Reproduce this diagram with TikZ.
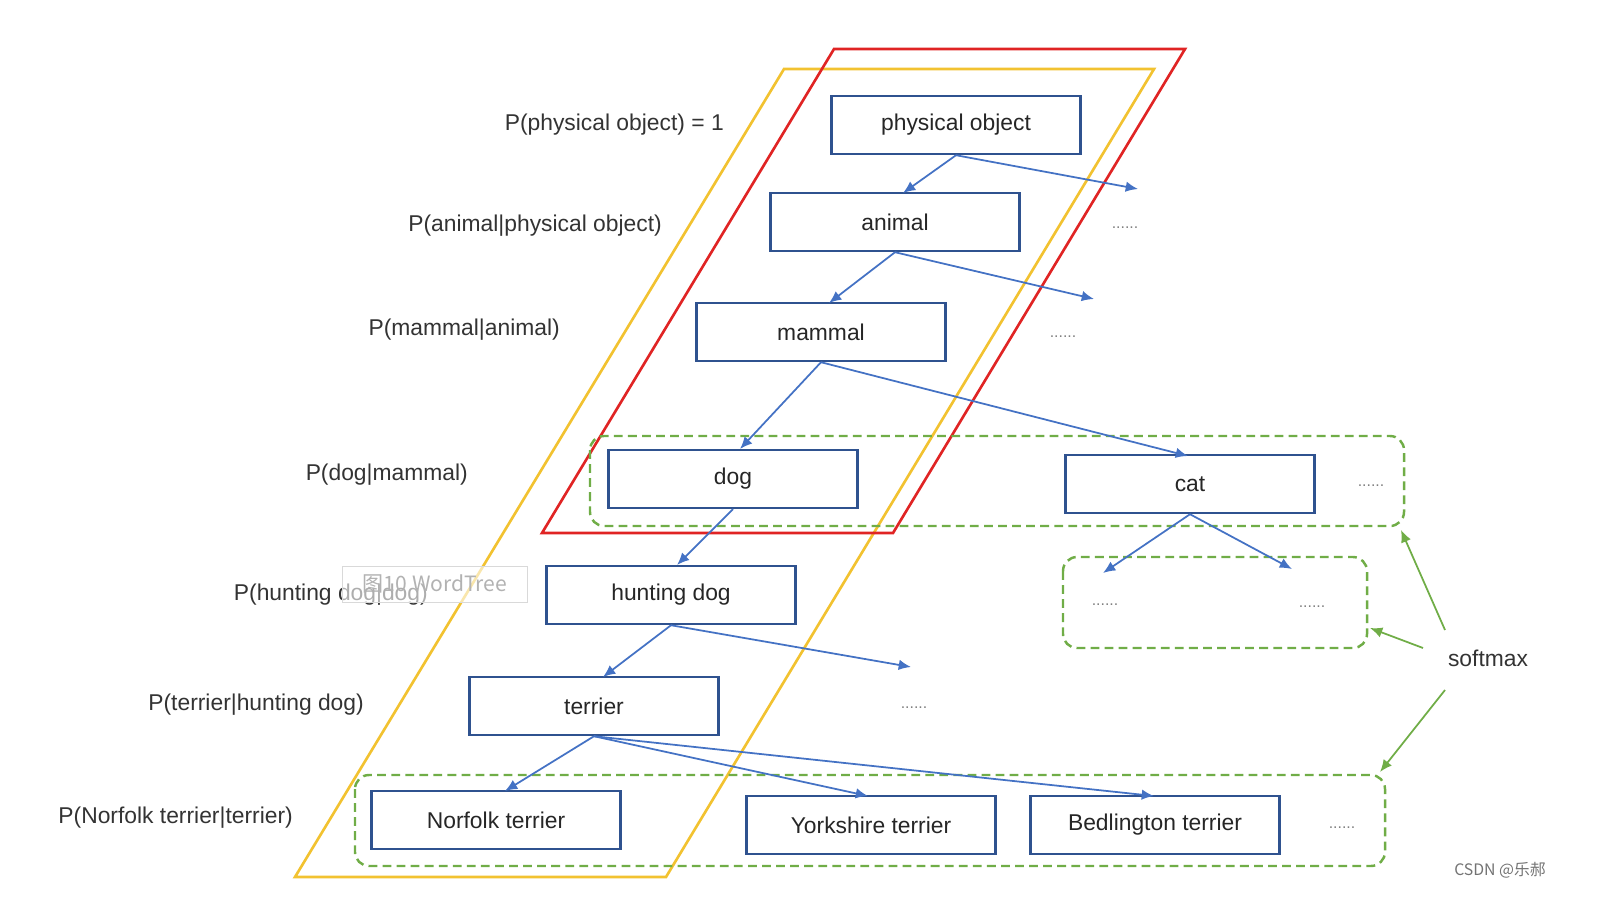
\documentclass[tikz,border=0pt]{standalone}
\usepackage{fontspec}
\setmainfont{Liberation Sans}
\newfontfamily\cjk{Noto Sans CJK SC}
\usetikzlibrary{arrows.meta}
\definecolor{bbox}{HTML}{2F528F}
\definecolor{barr}{HTML}{4472C4}
\definecolor{gr}{HTML}{70AD47}
\definecolor{yel}{HTML}{F2C230}
\definecolor{rd}{HTML}{E02424}
\begin{document}
\begin{tikzpicture}[x=0.02cm,y=-0.02cm,
 box/.style={draw=bbox,line width=1.4pt,minimum width=4.98cm,minimum height=1.16cm,inner sep=0pt,font=\fontsize{13}{15}\selectfont,text=black!85},
 lbl/.style={anchor=east,font=\fontsize{13}{15}\selectfont,text=black!80},
 arr/.style={draw=barr,line width=1pt,-{Latex[length=7pt,width=6pt]}},
 garr/.style={draw=gr,line width=1pt,-{Latex[length=7pt,width=6pt]}},
 grp/.style={draw=gr,line width=1.4pt,dash pattern=on 5pt off 3pt,rounded corners=8pt},
 dots/.style={font=\small,text=gray}]
\useasboundingbox (0,0) rectangle (1598,906);
\draw[yel,line width=1.5pt] (784,69)--(1154,69)--(666,877)--(295,877)--cycle;
\draw[rd,line width=1.5pt] (834,49)--(1185,49)--(893,533)--(542,533)--cycle;
\draw[grp] (590,436) rectangle (1404,526);
\draw[grp] (1063,557) rectangle (1367,648);
\draw[grp] (355,775) rectangle (1385,866);
\node[box] (po) at (956,125) {physical object};
\node[box] (an) at (895,222) {animal};
\node[box] (ma) at (821,332) {mammal};
\node[box] (dog) at (733,479) {dog};
\node[box] (cat) at (1190,484) {cat};
\node[box] (hd) at (671,595) {hunting dog};
\node[box] (te) at (594,706) {terrier};
\node[box] (nt) at (496,820) {Norfolk terrier};
\node[box] (yt) at (871,825) {Yorkshire terrier};
\node[box] (bt) at (1155,825) {Bedlington terrier};
\coordinate (e1) at (1138,189); \coordinate (e2) at (1094,299);
\coordinate (e3) at (911,667); \coordinate (c1) at (1103,573); \coordinate (c2) at (1292,569);
\draw[arr] (po.south) -- (903,193);
\draw[arr] (po.south) -- (e1);
\draw[arr] (an.south) -- (829,303);
\draw[arr] (an.south) -- (e2);
\draw[arr] (ma.south) -- (740,449);
\draw[arr] (ma.south) -- (1188,456);
\draw[arr] (dog.south) -- (677,565);
\draw[arr] (hd.south) -- (603,677);
\draw[arr] (hd.south) -- (e3);
\draw[arr] (te.south) -- (505,791);
\draw[arr] (te.south) -- (868,796);
\draw[arr] (te.south) -- (1154,796);
\draw[arr] (cat.south) -- (c1);
\draw[arr] (cat.south) -- (c2);
\foreach \p in {(1125,228),(1063,337),(1371,486),(1105,605),(1312,607),(914,708),(1342,828)} \node[dots] at \p {......};
\node[lbl] (l1) at (730,125) {P(physical object) = 1};
\node[lbl] (l2) at (668,226) {P(animal|physical object)};
\node[lbl] (l3) at (566,330) {P(mammal|animal)};
\node[lbl] (l4) at (474,475) {P(dog|mammal)};
\node[lbl] (l5) at (434,595) {P(hunting dog|dog)};
\node[lbl] (l6) at (370,705) {P(terrier|hunting dog)};
\node[lbl] (l7) at (299,818) {P(Norfolk terrier|terrier)};
\node[font=\fontsize{13}{15}\selectfont,text=black!80] (sm) at (1488,658) {softmax};
\draw[garr] (1445,630) -- (1401,530);
\draw[garr] (1423,648) -- (1370,628);
\draw[garr] (1445,690) -- (1380,772);
\node[draw=black!15,fill=white,fill opacity=0.6,text opacity=1,text=black!30,minimum width=3.7cm,minimum height=0.72cm,font=\cjk\fontsize{12}{14}\selectfont] (wm) at (435,584) {图10 WordTree};
\node[text=black!55,font=\cjk\fontsize{9}{11}\selectfont] (cs) at (1500,870) {CSDN @乐郝};
\end{tikzpicture}
\end{document}
